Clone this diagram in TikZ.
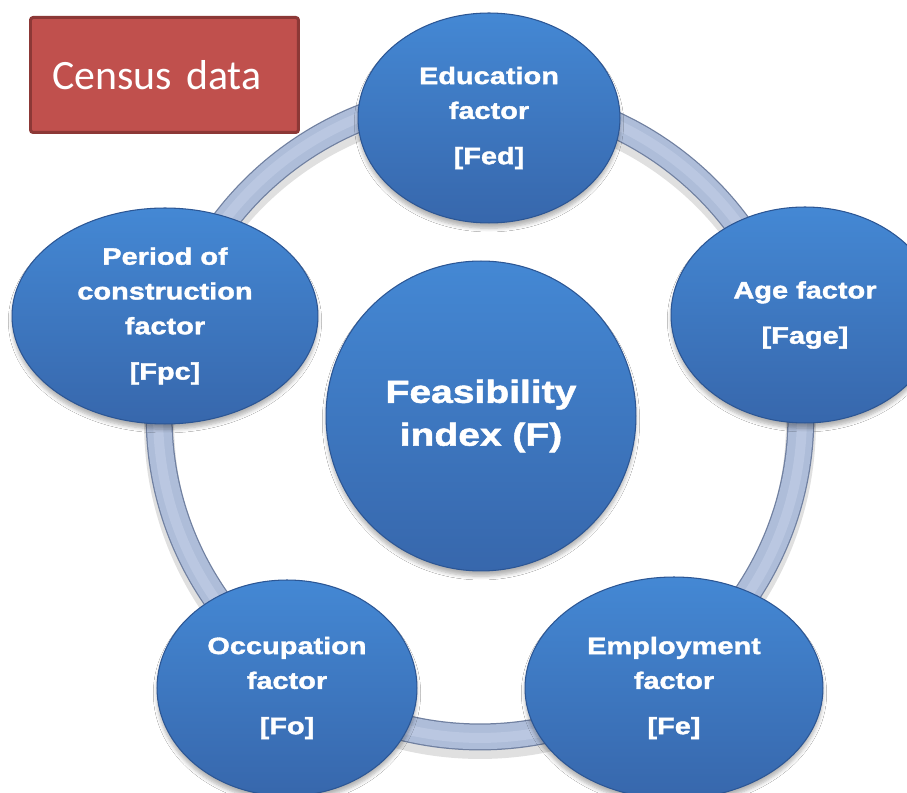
\documentclass[tikz,border=0pt]{standalone}
\usepackage{fontspec}
\setmainfont{Liberation Sans}
\newfontfamily\factorfont[FakeStretch=1.22,BoldFeatures={FakeBold=1.6}]{Liberation Sans}
\newfontfamily\censusfont{Carlito}
\usetikzlibrary{shapes.geometric,shadows.blur}
\usepackage{xcolor}
\definecolor{factortop}{RGB}{68,136,212}
\definecolor{factorbottom}{RGB}{55,103,172}
\definecolor{factorrim}{RGB}{44,86,148}
\definecolor{ringfill}{RGB}{174,189,217}
\definecolor{ringedge}{RGB}{112,128,160}
\definecolor{ringlight}{RGB}{186,199,225}
\definecolor{censusred}{RGB}{192,80,77}
\definecolor{censusedge}{RGB}{140,56,54}

\tikzset{
    factor/.style={ellipse, draw=factorrim, line width=0.6pt,
        top color=factortop, bottom color=factorbottom,
        inner sep=0pt, align=center, text=white,
        font=\factorfont\bfseries\fontsize{13.5pt}{19.8pt}\selectfont,
        blur shadow={shadow xshift=0pt, shadow yshift=-3pt, shadow opacity=30, shadow blur steps=6}},
    ring/.style={line width=#1},
}

\begin{document}
\begin{tikzpicture}[x=0.02cm, y=-0.02cm]
    \useasboundingbox (0,0) rectangle (907,793);
    \fill[white] (0,0) rectangle (907,793);
    \clip (0,0) rectangle (907,793);

    % ring behind the factors
    \coordinate (hub) at (480,416);
    \draw[black, opacity=0.12, ring=0.6cm] ([yshift=-4pt]hub) circle[radius=6.42cm];
    \draw[ringedge, ring=0.54cm] (hub) circle[radius=6.42cm];
    \draw[ringfill, ring=0.49cm] (hub) circle[radius=6.42cm];
    \draw[ringlight, ring=0.2cm] (hub) circle[radius=6.44cm];

    % factors
    \node[factor, minimum width=5.24cm, minimum height=4.2cm] (edu) at (489,118) {Education\\factor\\[6pt][Fed]};
    \node[factor, minimum width=5.36cm, minimum height=4.32cm] (age) at (805,315) {Age factor\\[6pt][Fage]};
    \node[factor, minimum width=6.12cm, minimum height=4.32cm] (pc) at (165,316) {Period of\\construction\\factor\\[6pt][Fpc]};
    \node[factor, minimum width=5.2cm, minimum height=4.32cm] (occ) at (287,688) {Occupation\\factor\\[6pt][Fo]};
    \node[factor, minimum width=5.96cm, minimum height=4.44cm] (emp) at (674,688) {Employment\\factor\\[6pt][Fe]};

    % index in the middle
    \node[factor, circle, minimum size=6.2cm,
        font=\factorfont\bfseries\fontsize{18.2pt}{24.4pt}\selectfont] (fi) at (481,416) {Feasibility\\index (F)};

    \node[draw=censusedge, line width=0.06cm, fill=censusred, rounded corners=1.5pt,
        anchor=north west, minimum height=2.3cm, text width=4.48cm, inner xsep=0.44cm,
        align=left, text=white, font=\censusfont\fontsize{23.8pt}{28pt}\selectfont] (census) at (29,16) {Census data};
\end{tikzpicture}
\end{document}
